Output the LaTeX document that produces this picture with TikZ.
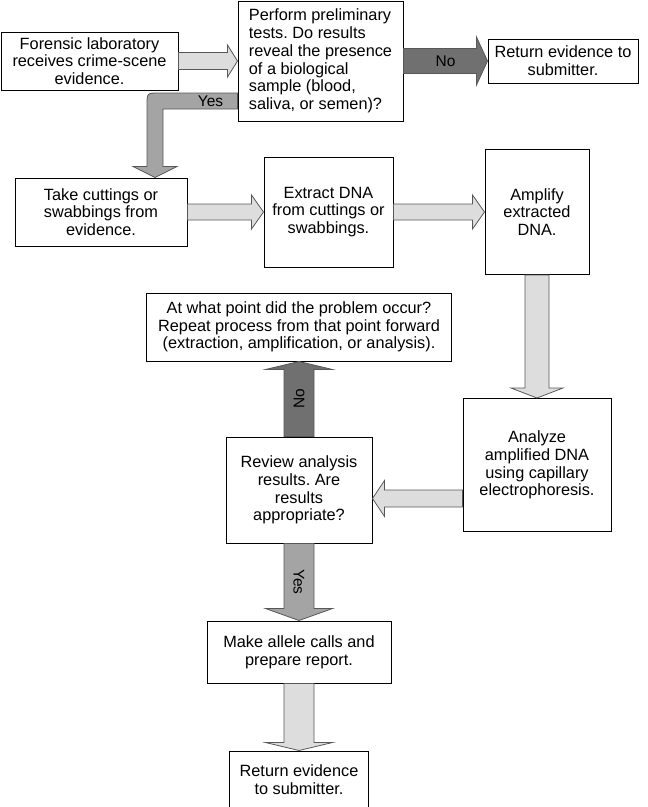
\documentclass[tikz,border=0pt]{standalone}
\usepackage{fontspec}
\setmainfont{Liberation Sans}
\usetikzlibrary{calc,positioning}
\frenchspacing
\definecolor{pale}{RGB}{221,221,221}
\definecolor{mid}{RGB}{164,164,164}
\definecolor{dark}{RGB}{112,112,112}
\definecolor{rim}{RGB}{88,88,88}

% block arrows: [fill] {from} {tip} {half shaft} {half head} {head length}
\newcommand{\hblock}[6][pale]{%
  \draw[blockarrow,fill=#1] let \p1=#2, \p2=#3, \n1={sign(\x2-\x1)*#6} in
    (\x1,\y1+#4) -- (\x2-\n1,\y1+#4) -- (\x2-\n1,\y1+#5) -- (\x2,\y1)
    -- (\x2-\n1,\y1-#5) -- (\x2-\n1,\y1-#4) -- (\x1,\y1-#4) -- cycle;}
\newcommand{\vblock}[6][pale]{%
  \draw[blockarrow,fill=#1] let \p1=#2, \p2=#3, \n1={sign(\y2-\y1)*#6} in
    (\x1+#4,\y1) -- (\x1+#4,\y2-\n1) -- (\x1+#5,\y2-\n1) -- (\x1,\y2)
    -- (\x1-#5,\y2-\n1) -- (\x1-#4,\y2-\n1) -- (\x1-#4,\y1) -- cycle;}

\begin{document}
\begin{tikzpicture}[
  x=1pt,y=-1pt,
  stepbox/.style={rectangle,draw,line width=1pt,fill=white,align=center,inner sep=2pt,font=\fontsize{16.3}{17.7}\selectfont},
  blockarrow/.style={draw=rim,line width=0.8pt,line join=miter},
  lbl/.style={inner sep=0pt,font=\fontsize{15.5}{15.5}\selectfont}
]
\useasboundingbox (0,0) rectangle (648,807);
\node[stepbox,minimum width=177pt,minimum height=58pt] (recv) at (89.5,61) {Forensic laboratory\\receives crime-scene\\evidence.};
\node[stepbox,align=left,minimum width=165pt,minimum height=120pt,right=59pt of recv] (prelim) {Perform preliminary\\tests. Do results\\reveal the presence\\of a biological\\sample (blood,\\saliva, or semen)?};
\node[stepbox,minimum width=150pt,minimum height=44pt,right=84pt of prelim] (ret1) {Return evidence to\\submitter.};
\node[stepbox,minimum width=172pt,minimum height=68pt] (cut) at (101,212) {Take cuttings or\\swabbings from\\evidence.};
\node[stepbox,minimum width=129pt,minimum height=110pt,right=76pt of cut] (extract) {Extract DNA\\from cuttings or\\swabbings.};
\node[stepbox,minimum width=104pt,minimum height=125pt,right=91pt of extract] (amplify) {Amplify\\extracted\\DNA.};
\node[stepbox,minimum width=148pt,minimum height=133pt,below=123pt of amplify] (analyze) {Analyze\\amplified DNA\\using capillary\\electrophoresis.};
\node[stepbox,minimum width=146pt,minimum height=106pt] (review) at (299,490) {Review analysis\\results. Are\\results\\appropriate?};
\node[stepbox,minimum width=305pt,minimum height=68pt,above=75pt of review] (repeat) {At what point did the problem occur?\\Repeat process from that point forward\\(extraction, amplification, or analysis).};
\node[stepbox,minimum width=184pt,minimum height=62pt,below=77pt of review] (report) {Make allele calls and\\prepare report.};
\node[stepbox,minimum width=139pt,minimum height=57pt,below=67pt of report] (ret2) {Return evidence\\to submitter.};
\coordinate (yesbend) at (155,101);

\hblock{(recv.east)}{(prelim.west)}{8.5pt}{16pt}{10pt}
\hblock[dark]{(prelim.east)}{(ret1.west)}{12.5pt}{24pt}{11pt}
\node[lbl] (nolbl) at ($(prelim.east)!0.5!(ret1.west)$) {No};
\draw[blockarrow,fill=mid] let \p1=(prelim.west |- yesbend), \p2=(yesbend), \p3=(yesbend |- cut.north) in
  (\x1,\y2+8pt) -- (\x2+4pt,\y2+8pt) .. controls (\x2-8pt,\y2+8pt) .. (\x2-8pt,\y2-4pt)
  -- (\x2-8pt,\y3+11pt) -- (\x2-22pt,\y3+11pt) -- (\x2,\y3) -- (\x2+22pt,\y3+11pt)
  -- (\x2+8pt,\y3+11pt) -- (\x2+8pt,\y2-8pt) -- (\x1,\y2-8pt) -- cycle;
\node[lbl] (yeslbl) at ($(prelim.west |- yesbend)+(-27,0)$) {Yes};
\hblock{(cut.east)}{(extract.west)}{8pt}{17pt}{12pt}
\hblock{(extract.east)}{(amplify.west)}{8pt}{17pt}{12pt}
\vblock{(amplify.south)}{(analyze.north)}{12pt}{26pt}{10pt}
\hblock{($(analyze.west)+(0,33.5)$)}{(review.east)}{8.5pt}{18pt}{12pt}
\vblock[dark]{(review.north)}{(repeat.south)}{15pt}{33.5pt}{8pt}
\node[lbl,rotate=90] (nolbl2) at ($(review.north)!0.5!(repeat.south)$) {No};
\vblock[mid]{(review.south)}{(report.north)}{15pt}{33.5pt}{12pt}
\node[lbl,rotate=-90] (yeslbl2) at ($(review.south)!0.5!(report.north)$) {Yes};
\vblock{(report.south)}{(ret2.north)}{15pt}{33.5pt}{8pt}
\end{tikzpicture}
\end{document}
